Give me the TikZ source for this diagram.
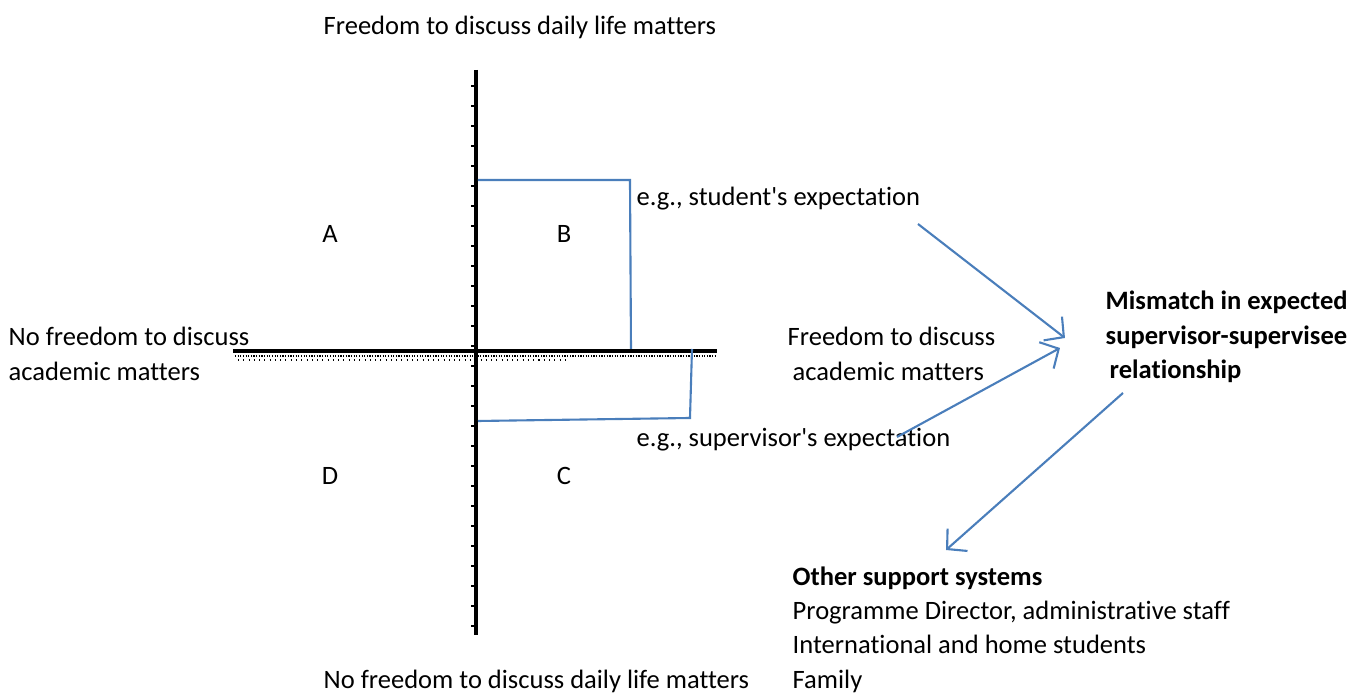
\documentclass[tikz,border=0pt]{standalone}
\usepackage{fontspec}
\setmainfont{Carlito}[Ligatures={TeXOff,CommonOff}]
\usetikzlibrary{arrows.meta}
\definecolor{lineblue}{RGB}{74,126,187}

\begin{document}
\begin{tikzpicture}[
    txt/.style={inner sep=0pt, anchor=west, align=left, font=\fontsize{7.55}{9.8}\selectfont},
    quad/.style={inner sep=0pt, font=\fontsize{7.55}{9.8}\selectfont},
    axis/.style={line width=1.35pt, black},
    expect/.style={lineblue, line width=0.6pt},
    link/.style={lineblue, line width=0.6pt, -{Straight Barb[length=1.4mm, width=3mm, line width=0.6pt]}}
  ]
    \useasboundingbox (-4.76,-3.42) rectangle (8.74,3.51);

    % Axes
    \draw[axis] (0,2.81) -- (0,-2.84);
    \draw[axis] (-2.43,0) -- (2.41,0);
    % scan fringe under the horizontal axis and along the vertical one
    \draw[line width=0.5pt, dash pattern=on 0.35pt off 0.4pt] (-2.41,-0.05) -- (2.41,-0.05);
    \draw[line width=0.4pt, dash pattern=on 0.3pt off 1.2pt] (-2.38,-0.09) -- (0.9,-0.09);
    \foreach \y in {-2.75,-2.55,...,2.7}
        \draw[line width=0.4pt] (-0.045,\y) -- (-0.02,\y);

    % Axis labels
    \node[txt] (top) at (-1.53,3.24) {Freedom to discuss daily life matters};
    \node[txt] (bottom) at (-1.53,-3.30) {No freedom to discuss daily life matters};
    \node[txt] (left) at (-4.68,-0.03) {No freedom to discuss\\academic matters};
    \node[txt] (right) at (3.11,-0.03) {Freedom to discuss\\\hspace{0.05cm}academic matters};

    % Quadrants
    \node[quad] (qa) at (-1.46,1.17) {A};
    \node[quad] (qb) at (0.88,1.17) {B};
    \node[quad] (qd) at (-1.46,-1.25) {D};
    \node[quad] (qc) at (0.88,-1.25) {C};

    % Expectations
    \draw[expect] (0.02,1.71) -- (1.54,1.71) -- (1.55,0.02);
    \draw[expect] (2.16,0.02) -- (2.14,-0.67) -- (0.02,-0.70);
    \node[txt] (stud) at (1.60,1.52) {e.g., student's expectation};
    \node[txt] (sup) at (1.60,-0.89) {e.g., supervisor's expectation};

    % Mismatch and support
    \node[txt, font=\fontsize{7.55}{9.8}\selectfont\bfseries] (mis) at (6.29,0.14)
        {Mismatch in expected\\supervisor-supervisee\\\hspace{0.04cm}relationship};
    \node[txt] (other) at (3.16,-2.785)
        {\textbf{Other support systems}\\Programme Director, administrative staff\\International and home students\\Family};

    % Arrows
    \coordinate (stud-out) at (4.42,1.27);
    \coordinate (sup-out) at (4.21,-0.86);
    \coordinate (mis-in1) at (5.89,0.13);
    \coordinate (mis-in2) at (5.84,0.03);
    \coordinate (mis-out) at (6.47,-0.42);
    \coordinate (other-in) at (4.70,-1.99);
    \draw[link] (stud-out) -- (mis-in1);
    \draw[link] (sup-out) -- (mis-in2);
    \draw[link] (mis-out) -- (other-in);
\end{tikzpicture}
\end{document}
